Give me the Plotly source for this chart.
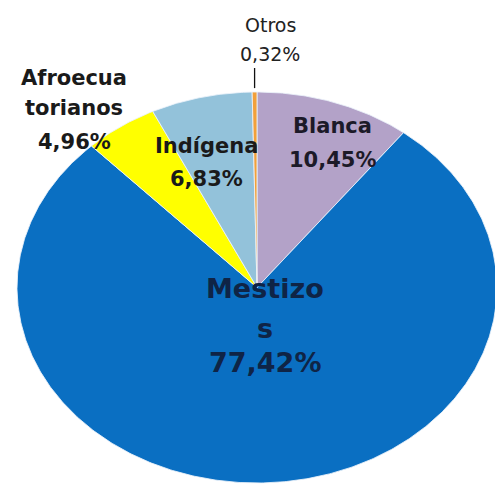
import numpy as np
import plotly.graph_objects as go

# Ethnic self-identification shares (%), listed clockwise from 12 o'clock
categories = ["Blanca", "Mestizos", "Afroecuatorianos", "Indígena", "Otros"]
shares = [10.45, 77.42, 4.96, 6.83, 0.32]
label_lines = [["Blanca"], ["Mestizo", "s"], ["Afroecua", "torianos"], ["Indígena"], ["Otros"]]
colors = ["#B3A2C8", "#0A6FC2", "#FFFF00", "#93C2DA", "#F2A03A"]

W, H = 495, 486
# pie ellipse in pixel space (the unit circle of the data axes)
CX, CY, RX, RY = 257.0, 287.5, 240.0, 195.5


def px_to_data(px, py):
    return (px - CX) / RX, -(py - CY) / RY


fig = go.Figure()

total = sum(shares)
start = 0.0
mids = []
for name, val, col in zip(categories, shares, colors):
    f0, f1 = start / total, (start + val) / total
    t = np.linspace(f0, f1, max(int(720 * (f1 - f0)), 4))
    ang = np.pi / 2 - 2 * np.pi * t
    xs = np.concatenate([[0.0], np.cos(ang), [0.0]])
    ys = np.concatenate([[0.0], np.sin(ang), [0.0]])
    fig.add_trace(go.Scatter(
        x=xs, y=ys, mode="lines", fill="toself", fillcolor=col,
        line=dict(color="rgba(235,242,250,0.85)", width=1),
        name=name, hoverinfo="name", showlegend=False))
    mids.append(np.pi / 2 - 2 * np.pi * (f0 + f1) / 2)
    start += val


def fmt(v):
    return f"{v:.2f}".replace(".", ",") + "%"


# label layout: centre x and the centre y of each text line (pixels)
label_x = {"Blanca": 332, "Mestizos": 265, "Afroecuatorianos": 74, "Indígena": 206, "Otros": 270}
label_ys = {
    "Blanca": [126, 160],
    "Mestizos": [288, 328, 362],
    "Afroecuatorianos": [78, 108, 142],
    "Indígena": [146, 179],
    "Otros": [25, 54],
}
label_size = {"Blanca": 21, "Mestizos": 27, "Afroecuatorianos": 21, "Indígena": 21, "Otros": 19}
label_color = {"Mestizos": "#0F2446", "Otros": "#222222", "Blanca": "#1c1a28"}

for name, val, lines in zip(categories, shares, label_lines):
    bold = name != "Otros"
    for txt, py in zip(lines + [fmt(val)], label_ys[name]):
        x, y = px_to_data(label_x[name], py)
        fig.add_annotation(
            x=x, y=y, xref="x", yref="y",
            text=f"<b>{txt}</b>" if bold else txt,
            showarrow=False, align="center",
            font=dict(family="DejaVu Sans", size=label_size[name],
                      color=label_color.get(name, "#1a1a1a")))

# leader line from the thin "Otros" slice to its label
m = mids[categories.index("Otros")]
x0, y0 = np.cos(m), np.sin(m)
_, ytop = px_to_data(0, 68)
fig.add_trace(go.Scatter(x=[x0, x0], y=[y0 + 0.02, ytop], mode="lines",
                         line=dict(color="#111111", width=1.3),
                         hoverinfo="skip", showlegend=False))

xr = [px_to_data(0, 0)[0], px_to_data(W, 0)[0]]
yr = [px_to_data(0, H)[1], px_to_data(0, 0)[1]]
fig.update_layout(
    width=W, height=H,
    margin=dict(l=0, r=0, t=0, b=0),
    paper_bgcolor="white", plot_bgcolor="white",
    xaxis=dict(range=xr, visible=False, fixedrange=True),
    yaxis=dict(range=yr, visible=False, fixedrange=True),
)

fig.write_html("out.html")
